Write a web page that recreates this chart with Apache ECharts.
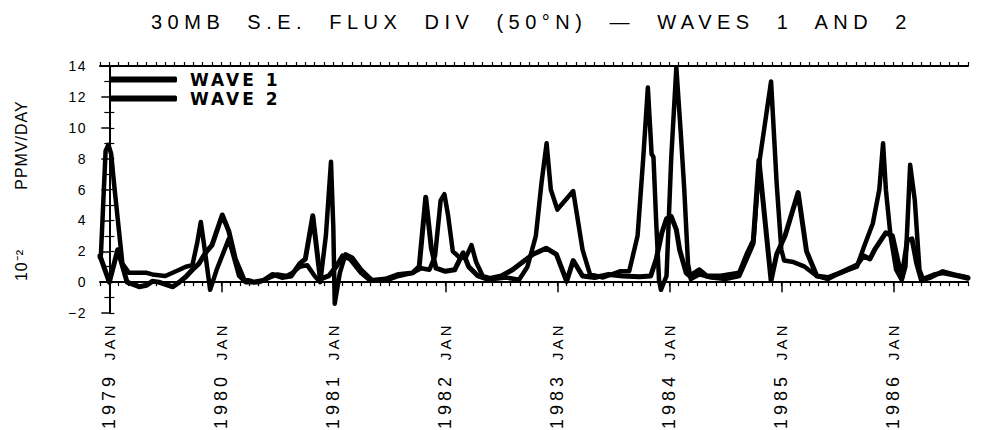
<!DOCTYPE html>
<html>
<head>
<meta charset="utf-8">
<title>30MB S.E. FLUX DIV (50°N) - WAVES 1 AND 2</title>
<script src="https://cdn.jsdelivr.net/npm/echarts@6.0.0/dist/echarts.min.js"></script>
<style>
  html, body { margin: 0; padding: 0; background: #fff; }
  #chart { width: 982px; height: 430px; }
  /* old plotter lettering is widely spaced: spread the svg text by size */
  #chart text { white-space: pre; }
  #chart text[style*="14px"] { letter-spacing: 1.5px; }
  #chart text[style*="15px"] { letter-spacing: 3.3px; }
  #chart text[style*="16px"] { letter-spacing: 1px; }
  #chart text[style*="17px"] { letter-spacing: 3px; }
  #chart text[style*="18px"] { letter-spacing: 4px; }
  #chart text[style*="20px"] { letter-spacing: 5.5px; }
</style>
</head>
<body>
<div id="chart"></div>
<script>
// months counted from JAN 1979 (0 = Jan 1979, -1 = Dec 1978)
const wave1Months = [-1.0, -0.9, -0.4, -0.1, 0.2, 0.5, 1.4, 2.1, 3.2, 4.0, 4.6, 6.0, 7.5, 8.2, 8.9, 9.4, 9.8, 10.2, 10.8, 11.5,
  12.8, 13.9, 14.6, 16.0, 17.2, 18.0, 19.0, 19.6, 20.4, 21.2, 22.0, 22.6, 23.2, 23.75, 24.0, 24.15, 24.7, 25.3, 26.0, 27.0,
  28.2, 29.6, 31.0, 32.5, 33.4, 34.3, 34.9, 35.5, 35.9, 36.3, 36.8, 37.5, 38.2, 38.8, 39.3, 40.0, 41.1, 42.5, 43.9, 44.8,
  45.7, 46.3, 46.85, 47.3, 48.0, 49.7, 50.7, 51.5, 52.9, 54.7, 55.7, 56.6, 57.2, 57.7, 58.1, 58.3, 58.6, 58.9, 59.1, 59.7,
  60.2, 60.75, 61.2, 61.6, 62.0, 62.3, 63.2, 64.5, 66.0, 67.5, 68.3, 69.0, 69.65, 70.9, 71.5, 72.0, 72.3, 73.3, 74.5, 75.8,
  77.0, 78.3, 80.1, 80.8, 81.8, 82.5, 82.9, 83.2, 83.7, 84.3, 84.9, 85.3, 85.8, 86.3, 86.8, 87.2, 88.0, 89.3, 90.5, 92.0];
const wave1Values = [1.6, 1.8, 8.5, 8.9, 8.3, 6.4, 1.2, 0.6, 0.6, 0.6, 0.5, 0.4, 0.8, 1.0, 1.1, 2.5, 3.9, 2.2, -0.5, 0.8,
  2.8, 0.4, 0.0, 0.0, 0.3, 0.5, 0.4, 0.6, 1.0, 1.1, 0.4, 0.0, 3.0, 7.8, 3.5, -1.4, 0.6, 1.8, 1.6, 0.8,
  0.1, 0.1, 0.4, 0.6, 0.9, 0.8, 1.7, 5.3, 5.7, 4.3, 2.0, 1.6, 1.6, 2.4, 1.3, 0.4, 0.2, 0.3, 0.15, 1.0,
  3.0, 6.4, 9.0, 6.0, 4.7, 5.9, 2.1, 0.5, 0.3, 0.7, 0.7, 3.0, 8.0, 12.6, 8.3, 8.1, 3.8, 0.1, -0.5, 0.4,
  8.0, 13.9, 9.9, 6.0, 1.2, 0.2, 0.5, 0.3, 0.2, 0.4, 1.5, 2.5, 7.8, 13.0, 6.4, 2.1, 1.4, 1.3, 1.0, 0.4,
  0.2, 0.6, 1.0, 2.2, 3.8, 6.0, 9.0, 6.0, 3.0, 0.8, 0.15, 1.0, 7.6, 5.3, 0.8, 0.15, 0.3, 0.7, 0.5, 0.3];

const wave2Months = [-1.0, 0.0, 0.9, 1.9, 3.2, 4.0, 4.6, 5.3, 6.8, 7.5, 8.2, 8.9, 9.6, 10.3, 11.0, 12.1, 12.8, 13.5, 14.4, 15.5,
  16.5, 17.5, 18.5, 19.5, 20.4, 21.0, 21.8, 22.6, 23.5, 24.3, 25.0, 25.8, 27.0, 28.0, 29.6, 31.0, 32.5, 33.2, 33.9, 34.5,
  35.0, 36.0, 37.0, 37.9, 38.5, 39.5, 40.5, 42.0, 43.2, 44.5, 45.4, 46.8, 47.9, 49.0, 49.7, 50.7, 52.0, 53.5, 55.0, 56.8,
  58.0, 58.6, 59.2, 59.7, 60.2, 60.75, 61.1, 61.8, 62.2, 63.2, 64.0, 65.5, 67.5, 68.3, 69.0, 69.6, 70.0, 70.9, 71.5, 72.4,
  73.8, 74.7, 75.8, 77.0, 78.3, 80.1, 80.8, 81.5, 82.0, 83.2, 83.9, 84.9, 85.5, 86.0, 86.5, 87.0, 88.5, 89.3, 91.0, 92.0];
const wave2Values = [1.7, 0.0, 2.1, 0.0, -0.3, -0.2, 0.05, 0.0, -0.3, 0.0, 0.35, 0.8, 1.2, 1.9, 2.4, 4.35, 3.3, 1.5, 0.2, 0.0,
  0.1, 0.5, 0.3, 0.4, 1.2, 1.5, 4.3, 0.2, 0.4, 1.0, 1.7, 1.5, 0.6, 0.1, 0.2, 0.5, 0.6, 1.0, 5.5, 2.2,
  0.9, 0.7, 0.8, 1.9, 1.0, 0.4, 0.2, 0.4, 0.8, 1.4, 1.8, 2.2, 1.8, 0.05, 1.4, 0.4, 0.3, 0.5, 0.4, 0.35,
  0.4, 1.5, 3.2, 4.1, 4.25, 3.4, 2.1, 0.6, 0.4, 0.8, 0.4, 0.4, 0.6, 1.8, 2.7, 7.9, 5.5, 0.1, 1.8, 3.0,
  5.8, 2.0, 0.4, 0.3, 0.6, 1.1, 1.7, 1.5, 2.1, 3.2, 3.0, 0.25, 2.7, 2.8, 1.2, 0.15, 0.5, 0.6, 0.4, 0.25];

const janMonths = [0, 12, 24, 36, 48, 60, 72, 84];
const yearLabels = ['1979', '1980', '1981', '1982', '1983', '1984', '1985', '1986'];

const ink = '#000';
const font = 'Liberation Sans';

const chart = echarts.init(document.getElementById('chart'), null, { renderer: 'svg' });

const monthAxis = {
  type: 'value',
  min: -1,
  max: 92,
  interval: 1,
  splitLine: { show: false }
};

// rotated piece of the y axis title
const sideText = (text, y) => ({
  type: 'text',
  x: 21,
  y: y,
  rotation: Math.PI / 2,
  style: {
    text: text,
    fill: ink,
    fontSize: 16,
    fontFamily: font,
    align: 'center',
    verticalAlign: 'middle'
  }
});

chart.setOption({
  animation: false,
  backgroundColor: '#fff',
  title: {
    text: '30MB  S.E.  FLUX  DIV  (50°N)  —  WAVES  1  AND  2',
    left: 146,
    top: 7,
    textStyle: { color: ink, fontSize: 20, fontWeight: 'normal', fontFamily: font }
  },
  graphic: [
    sideText('10⁻²', 265),
    sideText('PPMV/DAY', 145)
  ],
  legend: {
    orient: 'vertical',
    left: 104,
    top: 66,
    itemWidth: 68,
    itemHeight: 6,
    itemGap: 2,
    data: [
      { name: 'WAVE 1', icon: 'roundRect' },
      { name: 'WAVE 2', icon: 'roundRect' }
    ],
    textStyle: { color: ink, fontSize: 17, fontWeight: 'bold', fontFamily: 'DejaVu Sans', lineHeight: 16, padding: [0, 0, 0, 8] }
  },
  grid: { left: 100, right: 14, top: 66, bottom: 117, outerBoundsMode: 'none' },
  xAxis: [
    {
      ...monthAxis,
      position: 'bottom',
      axisLine: { lineStyle: { color: ink, width: 2 } },
      axisTick: { length: 4, lineStyle: { color: ink, width: 1.2 } },
      axisLabel: { show: false }
    },
    {
      ...monthAxis,
      position: 'bottom',
      axisLine: { show: false },
      axisTick: { customValues: janMonths, length: 10, lineStyle: { color: ink, width: 1.5 } },
      axisLabel: {
        customValues: janMonths,
        formatter: () => 'JAN',
        rotate: 90,
        margin: 9,
        color: ink,
        fontSize: 15,
        fontFamily: font
      }
    },
    {
      ...monthAxis,
      position: 'bottom',
      axisLine: { show: false },
      axisTick: { show: false },
      axisLabel: {
        customValues: janMonths,
        formatter: (v) => yearLabels[janMonths.indexOf(v)],
        rotate: 90,
        margin: 60,
        color: ink,
        fontSize: 18,
        fontFamily: font
      }
    },
    {
      ...monthAxis,
      position: 'top',
      axisLine: { lineStyle: { color: ink, width: 2 } },
      axisTick: { length: 4, lineStyle: { color: ink, width: 1.2 } },
      axisLabel: { show: false }
    }
  ],
  yAxis: [
    {
      type: 'value',
      position: 'left',
      min: -2,
      max: 14,
      interval: 2,
      axisLine: { lineStyle: { color: ink, width: 2 } },
      axisTick: { length: 8, lineStyle: { color: ink, width: 1.5 } },
      minorTick: { show: true, splitNumber: 2, length: 5, lineStyle: { color: ink, width: 1.2 } },
      splitLine: { show: false },
      axisLabel: {
        color: ink,
        fontSize: 14,
        fontFamily: font,
        margin: 13,
        formatter: (v) => String(v).replace('-', '\u2212')
      }
    },
    {
      type: 'value',
      position: 'right',
      min: -2,
      max: 14,
      interval: 1,
      axisLine: { lineStyle: { color: ink, width: 2 } },
      axisTick: { length: 5, lineStyle: { color: ink, width: 1.2 } },
      splitLine: { show: false },
      axisLabel: { show: false }
    }
  ],
  series: [
    {
      name: 'WAVE 1',
      type: 'line',
      xAxisIndex: 0,
      yAxisIndex: 0,
      symbol: 'none',
      data: wave1Months.map((m, i) => [m, wave1Values[i]]),
      lineStyle: { color: ink, width: 4.5, join: 'round', cap: 'round' },
      itemStyle: { color: ink }
    },
    {
      name: 'WAVE 2',
      type: 'line',
      xAxisIndex: 0,
      yAxisIndex: 0,
      symbol: 'none',
      data: wave2Months.map((m, i) => [m, wave2Values[i]]),
      lineStyle: { color: ink, width: 5, join: 'round', cap: 'round' },
      itemStyle: { color: ink }
    }
  ]
});

window.addEventListener('resize', () => chart.resize());
</script>
</body>
</html>
